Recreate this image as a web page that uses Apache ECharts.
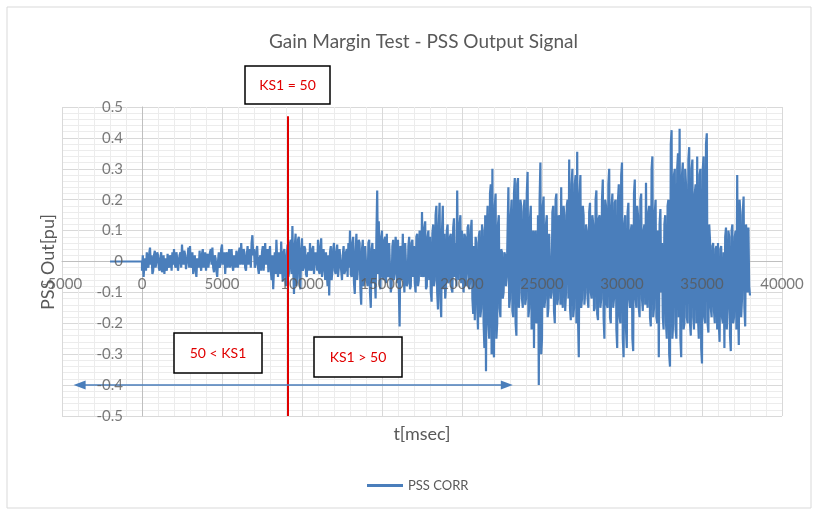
<!DOCTYPE html>
<html>
<head>
<meta charset="utf-8">
<script src="https://cdn.jsdelivr.net/npm/echarts@6/dist/echarts.min.js"></script>
<style>
  html, body { margin: 0; padding: 0; background: #fff; }
  #chart { width: 814px; height: 510px; }
</style>
</head>
<body>
<div id="chart"></div>
<script>
const leadTimes = [-2000, 0]
const leadValues = [0, 0]
const sampleStart = 0
const sampleStep = 50
const pssCorr = [
  -0.03, 0.02, -0.05, -0.01, 0.01, -0.03, 0.03, -0.01, -0.02, 0.025, 0.045, -0.01, 0.02, -0.04, -0.03, 0.02, 0.035, -0.02, 0.0, 0.03,
  0.02, -0.02, -0.03, 0.01, 0.03, -0.035, -0.01, 0.02, -0.04, 0.01, 0.015, -0.03, 0.025, -0.01, -0.02, 0.02, 0.01, -0.03, 0.03, -0.01,
  0.04, -0.01, -0.02, 0.03, 0.01, -0.03, -0.035, 0.02, 0.03, -0.02, 0.055, 0.0, -0.01, 0.035, 0.02, -0.025, -0.03, 0.015, 0.045, -0.02,
  0.05, -0.02, -0.01, 0.03, -0.04, 0.0, 0.02, -0.03, -0.05, 0.01, 0.01, -0.02, 0.035, -0.01, -0.03, 0.025, 0.04, -0.02, 0.0, 0.03,
  -0.03, 0.01, 0.025, -0.02, -0.02, 0.03, 0.04, -0.01, 0.045, -0.02, -0.035, 0.02, 0.01, -0.03, -0.05, 0.0, 0.03, -0.02, -0.01, 0.04,
  0.055, -0.01, 0.0, 0.03, -0.04, 0.01, 0.03, -0.02, 0.015, 0.04, -0.02, 0.01, 0.04, -0.015, -0.03, 0.02, 0.02, -0.02, 0.035, 0.0,
  -0.02, 0.03, 0.045, -0.01, 0.06, 0.01, -0.01, 0.04, 0.03, -0.02, -0.03, 0.02, 0.05, -0.01, 0.01, 0.04, -0.02, 0.06, 0.085, 0.02,
  0.04, -0.02, -0.01, 0.035, 0.05, -0.02, -0.04, 0.01, 0.02, -0.03, 0.03, 0.05, -0.03, 0.01, 0.06, -0.01, 0.0, 0.04, -0.035, 0.02,
  0.05, -0.03, -0.06, 0.02, -0.09, -0.02, 0.03, -0.04, 0.07, 0.0, -0.05, 0.03, 0.02, -0.04, 0.065, -0.02, -0.065, 0.03, 0.04, -0.05,
  -0.08, 0.02, 0.055, -0.05, -0.03, 0.06, 0.07, -0.04, 0.115, -0.02, -0.105, 0.05, 0.09, -0.08, -0.06, 0.07, 0.08, -0.05, -0.09, 0.04,
  0.075, -0.03, -0.02, 0.05, 0.04, -0.04, -0.05, 0.02, 0.03, -0.03, 0.06, -0.02, -0.03, 0.04, 0.05, -0.04, -0.045, 0.03, 0.02, -0.03,
  0.07, -0.03, -0.04, 0.05, 0.075, -0.05, -0.02, 0.04, 0.04, -0.06, 0.03, -0.04, -0.08, 0.02, -0.11, 0.03, 0.05, -0.06, -0.03, 0.04,
  0.06, -0.03, -0.04, 0.03, 0.055, -0.05, -0.02, 0.04, 0.045, -0.03, -0.06, 0.02, 0.05, -0.04, -0.03, 0.03, 0.04, -0.05, 0.06, -0.02,
  0.10, -0.04, -0.05, 0.06, 0.08, -0.07, -0.105, 0.03, 0.09, -0.06, -0.02, 0.07, 0.06, -0.09, -0.14, 0.04, 0.07, -0.08, -0.06, 0.05,
  0.05, -0.06, -0.08, 0.06, 0.07, -0.10, -0.15, 0.04, 0.06, -0.07, 0.04, -0.05, -0.12, 0.08, 0.23, -0.04, 0.13, -0.06, -0.09, 0.08,
  0.10, -0.05, -0.06, 0.07, 0.08, -0.07, 0.09, -0.04, -0.05, 0.06, 0.06, -0.10, -0.08, 0.05, 0.07, -0.06, -0.04, 0.08, 0.05, -0.07,
  0.07, -0.08, -0.21, 0.05, 0.04, -0.06, 0.09, -0.04, -0.10, 0.06, 0.06, -0.08, -0.07, 0.05, 0.08, -0.09, -0.08, 0.06, 0.07, -0.05,
  0.05, -0.07, -0.10, 0.08, 0.09, -0.08, -0.06, 0.10, 0.07, -0.05, 0.16, -0.04, -0.05, 0.11, 0.13, -0.09, -0.08, 0.08, 0.10, -0.06,
  0.08, -0.10, -0.13, 0.09, 0.12, -0.08, -0.06, 0.15, 0.18, -0.10, -0.155, 0.12, 0.19, -0.12, -0.18, 0.10, 0.18, -0.09, 0.09, -0.12,
  -0.08, 0.10, 0.12, -0.07, -0.06, 0.08, 0.09, -0.09, -0.10, 0.11, 0.14, -0.05, 0.06, -0.08, 0.23, -0.02, -0.06, 0.12, 0.15, -0.07,
  0.10, -0.06, -0.10, 0.09, 0.08, -0.08, -0.04, 0.11, 0.12, -0.09, -0.07, 0.10, 0.135, -0.12, -0.17, 0.05, -0.19, 0.08, 0.06, -0.15,
  -0.22, 0.08, 0.10, -0.18, -0.15, 0.12, 0.10, -0.20, -0.28, 0.15, -0.355, 0.10, 0.18, -0.20, -0.25, 0.22, 0.25, -0.30, 0.30, -0.28,
  -0.31, 0.18, 0.22, -0.25, -0.20, 0.12, 0.15, -0.15, -0.18, 0.04, 0.03, -0.12, -0.10, 0.03, 0.02, -0.08, -0.05, 0.10, 0.24, -0.15,
  -0.12, 0.15, 0.20, -0.16, -0.18, 0.22, 0.27, -0.20, -0.24, 0.25, 0.27, -0.15, -0.10, 0.20, 0.18, -0.12, -0.15, 0.16, 0.20, -0.14,
  -0.12, 0.22, 0.29, -0.18, -0.15, 0.14, 0.18, -0.22, -0.20, 0.10, -0.28, 0.08, 0.10, -0.20, -0.18, 0.15, -0.40, 0.20, 0.32, -0.30,
  -0.25, 0.18, 0.21, -0.15, -0.12, 0.12, 0.15, -0.18, -0.15, 0.09, 0.09, -0.12, -0.10, 0.16, 0.18, -0.16, -0.20, 0.20, 0.22, -0.14,
  -0.12, 0.15, 0.12, -0.14, 0.24, -0.10, -0.15, 0.18, 0.15, -0.16, -0.10, 0.18, 0.20, -0.12, 0.33, -0.15, -0.19, 0.25, 0.30, -0.18,
  -0.15, 0.25, 0.28, -0.20, 0.355, -0.18, -0.31, 0.22, 0.28, -0.15, -0.12, 0.18, 0.15, -0.14, -0.10, 0.12, 0.10, -0.12, -0.15, 0.16,
  0.19, -0.10, -0.12, 0.15, 0.12, -0.16, -0.15, 0.20, 0.23, -0.17, -0.19, 0.14, 0.15, -0.15, -0.12, 0.20, 0.265, -0.18, -0.25, 0.20,
  0.18, -0.14, -0.15, 0.25, 0.30, -0.18, -0.20, 0.18, 0.22, -0.15, -0.12, 0.19, 0.20, -0.22, -0.28, 0.20, 0.25, -0.18, -0.20, 0.28,
  0.32, -0.25, -0.31, 0.12, 0.15, -0.22, -0.28, 0.16, 0.19, -0.12, -0.15, 0.10, 0.12, -0.25, -0.29, 0.22, 0.265, -0.12, -0.15, 0.18,
  0.15, -0.15, -0.18, 0.20, 0.22, -0.12, -0.16, 0.10, 0.12, -0.14, 0.255, -0.10, -0.15, 0.16, 0.18, -0.18, -0.21, 0.30, 0.34, -0.18,
  -0.15, 0.16, 0.20, -0.18, -0.20, 0.10, -0.31, 0.12, 0.17, -0.10, 0.06, -0.18, -0.22, 0.12, 0.15, -0.20, -0.25, 0.18, 0.20, -0.30,
  -0.34, 0.38, 0.425, -0.25, -0.20, 0.28, 0.30, -0.22, -0.25, 0.30, 0.35, -0.18, 0.43, -0.25, -0.31, 0.28, 0.32, -0.22, -0.20, 0.30,
  0.25, -0.18, -0.20, 0.33, 0.37, -0.20, -0.24, 0.30, 0.33, -0.18, -0.22, 0.22, 0.25, -0.20, 0.34, -0.18, -0.25, 0.28, 0.30, -0.28,
  -0.33, 0.30, 0.34, -0.18, -0.20, 0.38, 0.415, -0.20, -0.23, 0.12, 0.07, -0.15, -0.18, 0.05, 0.06, -0.16, -0.20, 0.04, 0.05, -0.22,
  0.06, -0.20, -0.26, 0.04, 0.05, -0.18, -0.20, 0.03, -0.28, 0.08, 0.11, -0.22, -0.15, 0.10, 0.08, -0.24, -0.29, 0.10, 0.12, -0.20,
  -0.18, 0.08, 0.10, -0.22, 0.28, -0.15, -0.27, 0.20, 0.15, -0.18, -0.12, 0.16, 0.21, -0.15, -0.21, 0.12, 0.08, -0.10, 0.11, -0.08,
  -0.11
]
const xTickLabels = [-5000, 0, 5000, 10000, 15000, 20000, 25000, 30000, 35000, 40000]
const yTickLabels = [-0.5, -0.4, -0.3, -0.2, -0.1, 0, 0.1, 0.2, 0.3, 0.4, 0.5]
const ks1Time = 9100
const ks1Span = [0.47, -0.5]
const arrowSpan = [-3900, 22800]
const arrowLevel = -0.4

const seriesData = leadTimes.map((t, i) => [t, leadValues[i]])
pssCorr.forEach((v, i) => seriesData.push([sampleStart + i * sampleStep, v]))

const grey = '#595959'
const blue = '#4a7ebb'
const font = 'Lato'

const chart = echarts.init(document.getElementById('chart'))

function box(x, y, w, h, label) {
  return [
    { type: 'rect', z: 100, shape: { x: x, y: y, width: w, height: h },
      style: { fill: '#fff', stroke: '#000', lineWidth: 1.5 } },
    { type: 'text', z: 101, x: x + w / 2, y: y + h / 2,
      style: { text: label, fill: '#e00000', fontSize: 14, fontFamily: font,
        align: 'center', verticalAlign: 'middle' } }
  ]
}

// tick labels sit on the axes that cross at zero, so they are drawn as labels on invisible points
const tickLabel = { color: grey, fontSize: 15, fontFamily: font }

chart.setOption({
  animation: false,
  textStyle: { fontFamily: font },
  title: {
    text: 'Gain Margin Test - PSS Output Signal',
    left: 264,
    top: 27,
    textStyle: { color: grey, fontSize: 19, fontWeight: 'normal', fontFamily: font }
  },
  legend: {
    data: ['PSS CORR'],
    bottom: 13,
    left: 362,
    icon: 'rect',
    itemWidth: 36,
    itemHeight: 3,
    itemGap: 4,
    textStyle: { color: grey, fontSize: 13, fontFamily: font }
  },
  grid: { left: 62, right: 32, top: 107, bottom: 94, containLabel: false },
  xAxis: {
    type: 'value',
    min: -5000,
    max: 40000,
    interval: 5000,
    axisLine: { onZero: true, lineStyle: { color: '#bfbfbf', width: 1 } },
    axisTick: { show: false },
    minorTick: { show: false, splitNumber: 5 },
    axisLabel: { show: false },
    splitLine: { lineStyle: { color: '#d9d9d9' } },
    minorSplitLine: { show: true, lineStyle: { color: '#ececec' } }
  },
  yAxis: {
    type: 'value',
    min: -0.5,
    max: 0.5,
    interval: 0.1,
    axisLine: { show: true, onZero: true, lineStyle: { color: '#bfbfbf', width: 1 } },
    axisTick: { show: false },
    minorTick: { show: false, splitNumber: 5 },
    axisLabel: { show: false },
    splitLine: { lineStyle: { color: '#d9d9d9' } },
    minorSplitLine: { show: true, lineStyle: { color: '#ececec' } }
  },
  series: [
    {
      name: 'PSS CORR',
      type: 'line',
      data: seriesData,
      showSymbol: false,
      color: blue,
      lineStyle: { color: blue, width: 2.2 },
      z: 3,
      markLine: {
        silent: true,
        animation: false,
        label: { show: false },
        data: [
          [
            { coord: [ks1Time, ks1Span[0]], symbol: 'none', lineStyle: { color: '#e00000', width: 2, type: 'solid' } },
            { coord: [ks1Time, ks1Span[1]], symbol: 'none' }
          ],
          [
            { coord: [arrowSpan[0], arrowLevel], symbol: 'triangle', symbolSize: [9, 12], symbolRotate: 90,
              lineStyle: { color: blue, width: 1.5, type: 'solid' } },
            { coord: [arrowSpan[1], arrowLevel], symbol: 'triangle', symbolSize: [9, 12], symbolRotate: -90 }
          ]
        ]
      }
    },
    {
      name: 'xTicks',
      type: 'scatter',
      silent: true,
      symbolSize: 0,
      z: 5,
      data: xTickLabels.map(t => [t, 0]),
      label: Object.assign({ show: true, position: 'bottom', distance: 15,
        formatter: p => String(p.value[0]) }, tickLabel)
    },
    {
      name: 'yTicks',
      type: 'scatter',
      silent: true,
      symbolSize: 0,
      z: 5,
      data: yTickLabels.map(v => [0, v]),
      label: Object.assign({ show: true, position: 'left', distance: 19,
        formatter: p => String(p.value[1]) }, tickLabel)
    }
  ],
  graphic: [
    { type: 'rect', z: 0, silent: true, shape: { x: 7, y: 7, width: 804, height: 501 },
      style: { fill: 'none', stroke: '#d9d9d9', lineWidth: 1 } },
    { type: 'text', x: 48, y: 262, rotation: Math.PI / 2, z: 50,
      style: { text: 'PSS Out[pu]', fill: grey, fontSize: 18, fontFamily: font,
        align: 'center', verticalAlign: 'middle' } },
    { type: 'text', x: 422, y: 434, z: 50,
      style: { text: 't[msec]', fill: grey, fontSize: 18, fontFamily: font,
        align: 'center', verticalAlign: 'middle' } }
  ].concat(box(245, 66, 85, 38, 'KS1 = 50'), box(174, 333, 88, 40, '50 < KS1'), box(314, 337, 88, 40, 'KS1 > 50'))
})
</script>
</body>
</html>
